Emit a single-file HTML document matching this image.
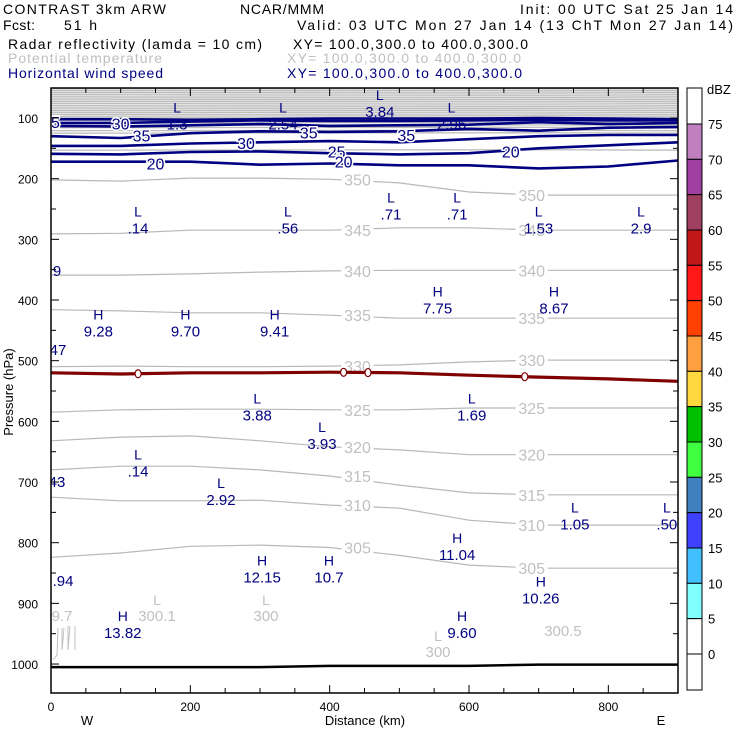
<!DOCTYPE html>
<html><head><meta charset="utf-8"><style>
html,body{margin:0;padding:0;background:#fff;}
svg{display:block;font-family:"Liberation Sans",sans-serif;}
</style></head><body>
<svg id="chart" width="740" height="740" viewBox="0 0 740 740">
<g font-size="14">
<text x="3" y="14" textLength="163">CONTRAST  3km ARW</text>
<text x="240" y="14" textLength="84">NCAR/MMM</text>
<text x="520" y="14" textLength="213">Init: 00 UTC Sat 25 Jan 14</text>
<text x="3" y="30" textLength="32">Fcst:</text>
<text x="64" y="30" textLength="33">51 h</text>
<text x="297" y="30" textLength="436">Valid: 03 UTC Mon 27 Jan 14 (13 ChT Mon 27 Jan 14)</text>
<text x="8" y="49" textLength="254">Radar reflectivity (lamda = 10 cm)</text>
<text x="293" y="49" textLength="235">XY= 100.0,300.0 to 400.0,300.0</text>
<text x="8" y="63" textLength="154" fill="#c0c0c0">Potential temperature</text>
<text x="287" y="63" textLength="234" fill="#c0c0c0">XY= 100.0,300.0 to 400.0,300.0</text>
<text x="8" y="78" textLength="155" fill="#000080">Horizontal wind speed</text>
<text x="287" y="78" textLength="235" fill="#000080">XY= 100.0,300.0 to 400.0,300.0</text>
</g>
<g id="plot"></g>
<g id="cbar"></g>
</svg>
<script>
const NS='http://www.w3.org/2000/svg';
const xs=[0,100,200,300,400,500,600,700,800,900];
const thetaLevels=[350,345,340,335,330,325,320,315,310,305];
const theta350=[202,204,199,199,201,207,222,227,227,227];
const theta345=[291,290,285,285,285,281,281,285,285,285];
const theta340=[359,359,357,354,352,351,351,351,351,351];
const theta335=[416,418,421,421,425,430,430,430,430,430];
const theta330=[510,509,510,510,509,507,502,499,499,499];
const theta325=[585,581,580,580,581,581,578,578,578,578];
const theta320=[632,626,624,632,642,647,655,655,655,655];
const theta315=[680,674,674,680,690,705,718,721,721,721];
const theta310=[725,731,731,730,738,743,763,771,771,771];
const theta305=[824,817,806,804,808,821,837,842,842,842];
const thetaUpper=[153,125,121,116,112,108,104,100,97,94,91,88,85,82,79,76,73,70,67,64,61,58,55,52];
const windLevels=[35,30,35,30,25,20,20];
const wind1=[102,102,103,102,101,101,101,100,101,102];
const wind2=[108,108,106,104,105,105,104,103,104,104];
const wind3=[113,114,112,110,113,112,111,107,110,108];
const wind4=[130,133,125,122,123,122,118,121,116,115];
const wind5=[146,146,142,140,138,140,135,130,128,128];
const wind6=[159,160,156,155,158,160,158,150,145,140];
const wind7=[172,172,172,177,175,178,178,183,180,170];
const freezeP=[520,522,520,520,519,520,524,527,530,534];
const freezeMarkKm=[125,420,455,680];
const groundP=[1005,1005,1005,1005,1003,1003,1003,1001,1001,1001];
const hlLetters=['L','L','L','L','L','L','L','L','L','L','H','H','H','H','H','L','L','L','L','L','L','L','H','H','H','H','H','H'];
const hlKm=[181,333,472,575,125,340,488,583,700,847,68,193,321,555,722,296,389,604,125,244,752,884,583,303,399,703,103,590];
const hlP=[111,111,90,111,282,282,259,259,282,282,452,452,452,414,414,590,637,590,683,730,770,770,820,857,857,892,949,949];
const hlVals=['1.3','2.54','3.84','2.96','.14','.56','.71','.71','1.53','2.9','9.28','9.70','9.41','7.75','8.67','3.88','3.93','1.69','.14','2.92','1.05','.50','11.04','12.15','10.7','10.26','13.82','9.60'];
const cbLevels=[75,70,65,60,55,50,45,40,35,30,25,20,15,10,5,0];
const cbColors=['#c080c0','#a040a0','#a04060','#c01818','#ff1818','#ff4000','#ffa040','#ffd840','#00c000','#40ff40','#4080c0','#4040ff','#40c0ff','#80ffff','#fff'];
const xTicks=[0,200,400,600,800];
const yTicks=[100,200,300,400,500,600,700,800,900,1000];

const X=km=>51+km*(627/900);
const Y=p=>118+(p-100)*0.6067;
const plot=document.getElementById('plot');
function mk(tag,attrs,parent){const e=document.createElementNS(NS,tag);for(const k in attrs)e.setAttribute(k,attrs[k]);(parent||plot).appendChild(e);return e;}
function pathFrom(arr){return arr.map((p,i)=>(i?'L':'M')+X(xs[i]).toFixed(1)+','+Y(p).toFixed(1)).join(' ');}

const clip=mk('clipPath',{id:'pc'});mk('rect',{x:51,y:88,width:627,height:605},clip);
const g=mk('g',{'clip-path':'url(#pc)'});
thetaUpper.forEach((p,i)=>{
  const e=mk('path',{d:'M51,'+Y(p).toFixed(1)+' C200,'+(Y(p)+1.5)+' 450,'+(Y(p)-1.5)+' 678,'+Y(p).toFixed(1),stroke:'#bdbdbd','stroke-width':1.3,fill:'none'},g);
  
  
});
const thetaSeries=[theta350,theta345,theta340,theta335,theta330,theta325,theta320,theta315,theta310,theta305];
thetaSeries.forEach((arr,i)=>{
  const e=mk('path',{d:pathFrom(arr),stroke:'#b8b8b8','stroke-width':1.2,fill:'none'},g);
  
  
  [440,690].forEach(km=>{
    const idx=Math.round(km/100);const yy=Y(arr[Math.min(idx,9)]);
    mk('rect',{x:X(km)-16,y:yy-8,width:32,height:15,fill:'#fff'},g);
    const t=mk('text',{x:X(km),y:yy+6,'text-anchor':'middle','font-size':16,fill:'#c0c0c0'},g);
    t.textContent=thetaLevels[i];
    
    
  });
});
[wind1,wind2,wind3,wind4,wind5,wind6,wind7].forEach((arr,i)=>{
  const e=mk('path',{d:pathFrom(arr),stroke:'#000080','stroke-width':2.6,fill:'none'},g);
  
  
});
[[25,0,107],[30,100,109],[35,130,129],[30,280,141],[35,370,124],[25,410,155],[35,510,128],[20,150,175],[20,420,172],[20,660,155]].forEach(a=>{
  const t=mk('text',{x:X(a[1]),y:Y(a[2])+6,'text-anchor':'middle','font-size':16,fill:'#000080',stroke:'#fff','stroke-width':3,'paint-order':'stroke'},g);
  t.textContent=a[0];
  
  
});
const fz=mk('path',{d:pathFrom(freezeP),stroke:'#800000','stroke-width':3.2,fill:'none'},g);


freezeMarkKm.forEach(km=>{
  const i=Math.min(Math.floor(km/100),8);const f=(km-xs[i])/100;
  const p=freezeP[i]+(freezeP[i+1]-freezeP[i])*f;
  const e=mk('ellipse',{cx:X(km),cy:Y(p),rx:3,ry:4,fill:'#fff',stroke:'#800000','stroke-width':1.2},g);
  
  
});
const gd=mk('path',{d:pathFrom(groundP),stroke:'#000','stroke-width':2.5,fill:'none'},g);


const wg=mk('path',{d:'M53,660 L57,655 L58,628 M62,628 L62,650 L64,628 M68,626 L68,650 L70,626 M75,626 L75,650',stroke:'#c0c0c0','stroke-width':1,fill:'none'},g);


hlLetters.forEach((l,i)=>{
  const t1=mk('text',{x:X(hlKm[i]),y:Y(hlP[i])-12,'text-anchor':'middle','font-size':14,fill:'#000080'},g);
  t1.textContent=l;
  
  
  const t2=mk('text',{x:X(hlKm[i]),y:Y(hlP[i])+5,'text-anchor':'middle','font-size':15,fill:'#000080'},g);
  t2.textContent=hlVals[i];
  
  
});
[['L',152,'300.1',157],['L',152,'300',266],['',0,'9.7',62],['',0,'300.5',563],['L',0,'300',438]].forEach((a,i)=>{
  const yb=[621,621,621,636,657][i];
  if(a[0]){const t=mk('text',{x:a[3],y:yb-16,'text-anchor':'middle','font-size':14,fill:'#c0c0c0'},g);t.textContent=a[0];
  
  }
  const t=mk('text',{x:a[3],y:yb,'text-anchor':'middle','font-size':15,fill:'#c0c0c0'},g);t.textContent=a[2];
  
  
});
[['9',57,276],['47',58,355],['43',57,487],['.94',63,586]].forEach(a=>{
  const t=mk('text',{x:a[1],y:a[2],'text-anchor':'middle','font-size':15,fill:'#000080'},g);t.textContent=a[0];
  
  
});
const fr=mk('rect',{x:51,y:88,width:627,height:605,fill:'none',stroke:'#000','stroke-width':1.5});


for(let km=0;km<=900;km+=50){
  const L=km%200===0?8:5;
  mk('line',{x1:X(km),y1:693,x2:X(km),y2:693-L,stroke:'#000'});
  mk('line',{x1:X(km),y1:88,x2:X(km),y2:88+L,stroke:'#000'});
}
for(let p=50;p<=1050;p+=50){
  if(Y(p)<88||Y(p)>693)continue;
  const L=p%100===0?8:5;
  mk('line',{x1:51,y1:Y(p),x2:51+L,y2:Y(p),stroke:'#000'});
  mk('line',{x1:678,y1:Y(p),x2:678-L,y2:Y(p),stroke:'#000'});
}
xTicks.forEach(v=>{const t=mk('text',{x:X(v),y:711,'text-anchor':'middle','font-size':12},plot);t.textContent=v;
  
  });
yTicks.forEach(v=>{const t=mk('text',{x:38,y:Y(v)+5,'text-anchor':'end','font-size':12},plot);t.textContent=v;
  
  });
let t=mk('text',{x:365,y:725,'text-anchor':'middle','font-size':13});t.textContent='Distance (km)';

t=mk('text',{x:0,y:0,'text-anchor':'middle','font-size':13,transform:'translate(13,392) rotate(-90)'});t.textContent='Pressure (hPa)';

t=mk('text',{x:87,y:725,'text-anchor':'middle','font-size':13});t.textContent='W';

t=mk('text',{x:661,y:725,'text-anchor':'middle','font-size':13});t.textContent='E';

const cb=document.getElementById('cbar');
const cbY=v=>124+(75-v)*(530/75);
mk('rect',{x:687,y:88,width:15,height:36,fill:'#fff',stroke:'#000'},cb);
cbColors.forEach((c,i)=>{
  const r=mk('rect',{x:687,y:cbY(cbLevels[i]),width:15,height:cbY(cbLevels[i+1])-cbY(cbLevels[i]),fill:c,stroke:'#000'},cb);
  
  
});
mk('rect',{x:687,y:cbY(0),width:15,height:690-cbY(0),fill:'#fff',stroke:'#000'},cb);
cbLevels.forEach(v=>{const tt=mk('text',{x:708,y:cbY(v)+5,'font-size':13},cb);tt.textContent=v;
  });
t=mk('text',{x:707,y:94,'font-size':13},cb);t.textContent='dBZ';

</script>
</body></html>
